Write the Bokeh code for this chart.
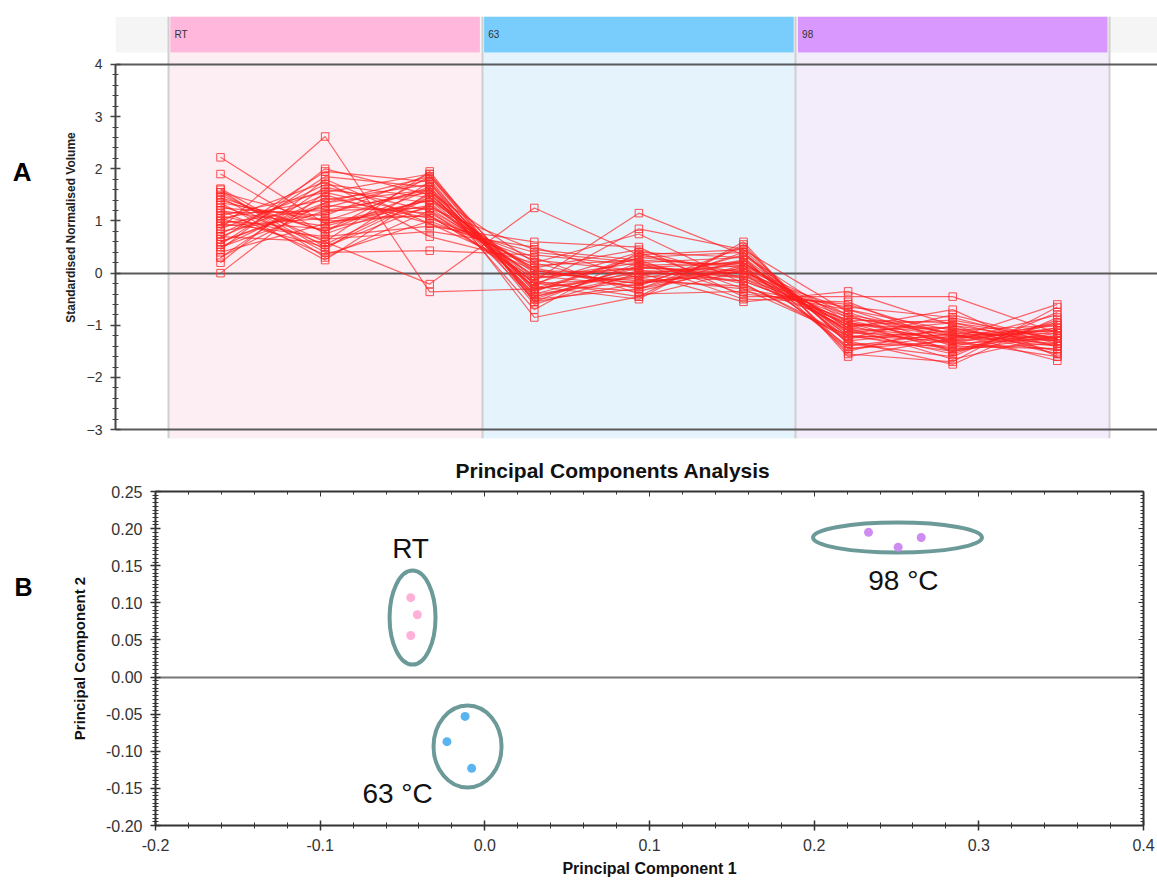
from bokeh.plotting import figure
from bokeh.models import Range1d, FixedTicker, LinearAxis, Label, PrintfTickFormatter
from bokeh.layouts import column
from bokeh.embed import file_html
from bokeh.resources import INLINE

# ---------------- Panel A data (standardised normalised volume) ----------------
groups = ["RT", "63", "98"]
samples = ["RT-1", "RT-2", "RT-3", "63-1", "63-2", "63-3", "98-1", "98-2", "98-3"]
y_ticks_a = [-3, -2, -1, 0, 1, 2, 3, 4]

rt_1 = [2.22, 1.90, 0.85, 0.00, 0.20, 0.30, 1.60, 1.55, 1.50, 1.45, 1.40, 1.35, 1.30, 1.25, 1.20, 1.15,
        1.10, 1.05, 1.00, 0.95, 0.90, 0.85, 0.80, 0.75, 0.70, 0.65, 0.60, 0.55, 0.50, 0.45, 1.62, 1.20,
        1.10, 0.95, 0.30, 0.40, 1.35, 1.00, 0.70, 1.55, 0.60, 1.45, 0.50, 1.05]
rt_2 = [0.95, 0.75, 2.62, 1.55, 1.80, 1.35, 0.30, 0.45, 0.60, 0.40, 0.80, 1.00, 0.55, 1.10, 0.90, 1.20,
        0.65, 1.40, 0.85, 1.25, 1.05, 1.60, 1.15, 1.70, 1.50, 1.95, 1.30, 1.85, 1.45, 2.00, 0.50, 0.35,
        1.55, 0.70, 1.65, 0.95, 0.25, 1.75, 0.60, 1.00, 1.35, 0.80, 1.20, 0.50]
rt_3 = [1.30, 1.45, -0.36, 1.10, 0.95, 1.60, 1.20, 1.75, -0.21, 0.43, 1.85, 1.65, 1.50, 1.90, 1.40, 1.55,
        0.80, 1.70, 1.25, 1.80, 1.10, 1.35, 1.60, 1.45, 0.95, 1.75, 1.15, 1.65, 1.05, 1.50, 1.30, 1.00,
        1.90, 0.90, 1.20, 1.40, 1.55, 0.70, 1.95, 1.10, 1.85, 1.60, 1.25, 1.45]
c63_1 = [-0.05, -0.20, -0.30, -0.10, 0.05, -0.30, 0.10, -0.45, 1.25, 0.35, -0.50, -0.40, -0.15, -0.55, -0.25, 0.20,
         0.50, -0.35, -0.05, -0.60, 0.15, -0.20, -0.70, 0.00, 0.40, -0.85, 0.10, -0.45, 0.30, -0.10, 0.05, 0.25,
         -0.35, 0.60, -0.25, 0.05, -0.50, 0.20, -0.55, -0.15, -0.30, -0.40, 0.45, -0.20]
c63_2 = [0.10, -0.10, 0.00, 0.20, -0.20, -0.05, -0.30, 0.05, 0.35, 0.15, -0.30, 0.10, 1.15, -0.20, 0.85, 0.75,
         -0.10, 0.30, -0.25, 0.00, 0.25, -0.35, 0.40, -0.15, 0.20, -0.45, 0.45, -0.05, -0.40, 0.10, -0.20, 0.05,
         0.35, 0.50, -0.50, 0.00, 0.15, -0.30, 0.20, -0.45, 0.30, -0.15, 0.25, 0.40]
c63_3 = [0.05, 0.20, 0.15, 0.30, 0.10, -0.15, 0.25, 0.00, 0.00, -0.10, 0.40, 0.20, 0.35, 0.05, 0.45, -0.20,
         -0.30, 0.10, 0.50, -0.05, -0.40, 0.15, 0.30, -0.25, -0.50, 0.55, -0.10, 0.25, -0.35, 0.00, 0.35, -0.15,
         0.45, -0.45, 0.60, -0.55, 0.20, 0.10, -0.20, 0.05, 0.40, -0.05, 0.15, -0.30]
c98_1 = [-0.95, -1.05, -0.80, -1.20, -1.10, -0.90, -1.25, -1.00, -0.70, -0.85, -1.30, -1.15, -0.95, -1.10, -0.75, -1.20,
         -0.65, -1.40, -1.35, -1.00, -0.60, -1.45, -1.50, -0.95, -0.55, -1.55, -1.05, -1.20, -0.70, -1.30, -1.15, -0.90,
         -1.35, -0.45, -1.60, -0.35, -1.05, -0.85, -1.25, -1.10, -1.45, -0.80, -1.00, -1.20]
c98_2 = [-1.20, -1.25, -1.15, -1.50, -1.05, -1.35, -1.10, -1.45, -1.30, -1.20, -1.10, -0.95, -1.30, -1.55, -1.40, -1.25,
         -0.85, -1.15, -1.60, -1.05, -1.20, -1.30, -1.00, -1.50, -1.35, -1.70, -0.70, -1.45, -1.10, -1.75, -1.20, -0.95,
         -1.40, -0.45, -1.25, -1.00, -1.65, -1.15, -0.80, -1.35, -1.20, -1.50, -0.90, -1.30]
c98_3 = [-1.35, -1.10, -1.10, -0.95, -1.40, -1.25, -1.30, -1.15, -1.20, -1.30, -1.55, -1.40, -1.60, -0.90, -1.45, -1.00,
         -1.35, -1.25, -0.75, -1.50, -1.15, -1.05, -1.30, -1.20, -1.45, -0.65, -1.60, -1.35, -1.00, -0.85, -1.10, -1.25,
         -1.05, -1.15, -0.60, -1.55, -1.20, -1.68, -1.30, -0.95, -1.40, -1.10, -1.25, -0.80]

# ---------------- Panel B data (PCA scores) ----------------
pc1_rt = [-0.045, -0.041, -0.045]
pc2_rt = [0.107, 0.084, 0.056]
pc1_63 = [-0.012, -0.023, -0.008]
pc2_63 = [-0.053, -0.087, -0.123]
pc1_98 = [0.233, 0.251, 0.265]
pc2_98 = [0.195, 0.175, 0.188]
x_ticks_b = [-0.2, -0.1, 0.0, 0.1, 0.2, 0.3, 0.4]
y_ticks_b = [-0.20, -0.15, -0.10, -0.05, 0.00, 0.05, 0.10, 0.15, 0.20, 0.25]

FONT = "Liberation Sans"


def letter_axis(letter, pos, size, standoff):
    """An axis with a single label, used to place the panel letter left of the plot."""
    ax = LinearAxis(ticker=FixedTicker(ticks=[pos]), major_label_overrides={pos: letter},
                    axis_line_color=None, major_tick_line_color=None, minor_tick_line_color=None,
                    major_tick_out=0, major_tick_in=0, major_label_standoff=standoff,
                    major_label_text_font=FONT, major_label_text_font_style="bold",
                    major_label_text_font_size=size, major_label_text_color="#000000")
    return ax


def bare_axis(ticks, minors):
    return LinearAxis(ticker=FixedTicker(ticks=ticks, minor_ticks=minors), major_label_text_font_size="0px",
                      major_label_text_color=None, major_label_standoff=0,
                      major_tick_in=5, major_tick_out=0, minor_tick_in=3, minor_tick_out=0,
                      axis_line_color="#333333", axis_line_width=2, major_tick_line_color="#333333",
                      minor_tick_line_color="#333333")


# ============================ Panel A ============================
pa = figure(width=1157, height=443, x_range=Range1d(-1.004, 8.958), y_range=Range1d(-3.17, 4.92),
            output_backend="svg", toolbar_location=None, x_axis_location=None,
            min_border_left=115, min_border_right=0, min_border_top=16, min_border_bottom=5)
pa.frame_align = False
pa.outline_line_color = None
pa.grid.visible = False

pa.quad(left=[-1.004], right=[8.958], bottom=[4.23], top=[4.92], fill_color="#f5f5f5", line_color=None)

body_cols = ["#fdeef4", "#e5f3fc", "#f3ecfa"]
head_cols = ["#ffb8dc", "#78cdfd", "#d898fe"]
lefts = [3 * i - 0.5 for i in range(len(groups))]
rights = [3 * i + 2.5 for i in range(len(groups))]
pa.quad(left=lefts, right=rights, bottom=[-3.17] * 3, top=[4.23] * 3, fill_color=body_cols, line_color=None)
pa.quad(left=[l + 0.02 for l in lefts], right=[r - 0.02 for r in rights], bottom=[4.23] * 3, top=[4.92] * 3,
        fill_color=head_cols, line_color=None)
pa.vspan(x=lefts + [rights[-1]], line_color="#cfcfcf", line_width=2)
pa.hspan(y=[4, 0, -3], line_color="#5a5a5a", line_width=2)

for g, l in zip(groups, lefts):
    pa.add_layout(Label(x=l + 0.06, y=4.575, text=g, text_font=FONT, text_font_size="10px",
                        text_color="#333333", text_baseline="middle"))

cols = [rt_1, rt_2, rt_3, c63_1, c63_2, c63_3, c98_1, c98_2, c98_3]
xs_idx = list(range(len(samples)))
line_ys = [list(v) for v in zip(*cols)]
pa.multi_line(xs=[xs_idx] * len(line_ys), ys=line_ys, line_color="#ff1f1f", line_alpha=0.68, line_width=1.2)
px, py = [], []
for i, c in enumerate(cols):
    px += [i] * len(c)
    py += c
pa.scatter(px, py, marker="square", size=7.5, fill_color=None, line_color="#ff3030", line_alpha=0.85, line_width=1)

ya = pa.yaxis[0]
ya.ticker = FixedTicker(ticks=y_ticks_a, minor_ticks=[k / 5 for k in range(-15, 21) if k % 5])
ya.bounds = (-3, 4)
ya.axis_line_color = "#444444"
ya.axis_line_width = 2
ya.major_tick_line_color = "#444444"
ya.minor_tick_line_color = "#444444"
ya.major_tick_in = 5
ya.major_tick_out = 5
ya.minor_tick_in = 3
ya.minor_tick_out = 3
ya.major_tick_line_width = 1.5
ya.major_label_text_font = FONT
ya.major_label_text_font_size = "14px"
ya.major_label_text_color = "#333333"
ya.major_label_standoff = 8
ya.axis_label = "Standardised Normalised Volume"
ya.axis_label_text_font = FONT
ya.axis_label_text_font_style = "bold"
ya.axis_label_text_font_size = "12px"
ya.axis_label_text_color = "#222222"
ya.axis_label_standoff = 6
pa.add_layout(letter_axis("A", 1.93, "26px", 29), "left")

# ============================ Panel B ============================
pb = figure(width=1157, height=437, x_range=Range1d(-0.2, 0.4), y_range=Range1d(-0.2, 0.25),
            output_backend="svg", toolbar_location=None,
            min_border_left=155, min_border_right=14, min_border_top=48, min_border_bottom=55)
pb.frame_align = False
pb.outline_line_color = None
pb.grid.visible = False

pb.title.text = "Principal Components Analysis"
pb.title.text_font = FONT
pb.title.text_font_style = "bold"
pb.title.text_font_size = "21px"
pb.title.text_color = "#111111"
pb.title.align = "left"
pb.title.offset = 300
pb.title.standoff = 19

pb.hspan(y=[0.0], line_color="#777777", line_width=2)

x_minor = [round(-0.2 + k * 0.02, 3) for k in range(31)]
y_minor = [round(-0.2 + k * 0.005, 4) for k in range(91)]

for ax in (pb.xaxis[0], pb.yaxis[0]):
    ax.axis_line_color = "#333333"
    ax.axis_line_width = 2
    ax.major_tick_line_color = "#333333"
    ax.minor_tick_line_color = "#333333"
    ax.major_tick_in = 5
    ax.major_tick_out = 5
    ax.minor_tick_in = 3
    ax.minor_tick_out = 3
    ax.major_tick_line_width = 1.5
    ax.major_label_text_font = FONT
    ax.major_label_text_font_size = "16px"
    ax.major_label_text_color = "#333333"
    ax.major_label_standoff = 8
    ax.axis_label_text_font = FONT
    ax.axis_label_text_font_style = "bold"
    ax.axis_label_text_color = "#111111"
pb.xaxis[0].ticker = FixedTicker(ticks=x_ticks_b, minor_ticks=x_minor)
pb.xaxis[0].formatter = PrintfTickFormatter(format="%.1f")
pb.xaxis[0].axis_label = "Principal Component 1"
pb.xaxis[0].axis_label_text_font_size = "16px"
pb.xaxis[0].axis_label_standoff = 6
pb.yaxis[0].ticker = FixedTicker(ticks=y_ticks_b, minor_ticks=y_minor)
pb.yaxis[0].formatter = PrintfTickFormatter(format="%.2f")
pb.yaxis[0].axis_label = "Principal Component 2"
pb.yaxis[0].axis_label_text_font_size = "15px"
pb.yaxis[0].axis_label_standoff = 15

pb.add_layout(bare_axis(x_ticks_b, x_minor), "above")
pb.add_layout(bare_axis(y_ticks_b, y_minor), "right")
pb.add_layout(letter_axis("B", 0.122, "25px", 36), "left")

# cluster ellipses (annotation geometry)
ell_x = [-0.0439, -0.0105, 0.2506]
ell_y = [0.0802, -0.0936, 0.1880]
ell_w = [0.0279, 0.0413, 0.1026]
ell_h = [0.1267, 0.1105, 0.0404]
pb.ellipse(x=ell_x, y=ell_y, width=ell_w, height=ell_h, fill_color=None, line_color="#6b9a98", line_width=4)

pb.scatter(pc1_rt, pc2_rt, size=9, fill_color="#ffb0d8", line_color=None)
pb.scatter(pc1_63, pc2_63, size=9, fill_color="#5ab4f0", line_color=None)
pb.scatter(pc1_98, pc2_98, size=9, fill_color="#cf8cf0", line_color=None)

for txt, lx, ly in [("RT", -0.0451, 0.1732), ("98 °C", 0.2542, 0.130), ("63 °C", -0.053, -0.1569)]:
    pb.add_layout(Label(x=lx, y=ly, text=txt, text_align="center", text_baseline="middle",
                        text_font=FONT, text_font_size="28px", text_color="#111111"))

layout = column(pa, pb, spacing=0)
open("out.html", "w").write(file_html(layout, INLINE))
